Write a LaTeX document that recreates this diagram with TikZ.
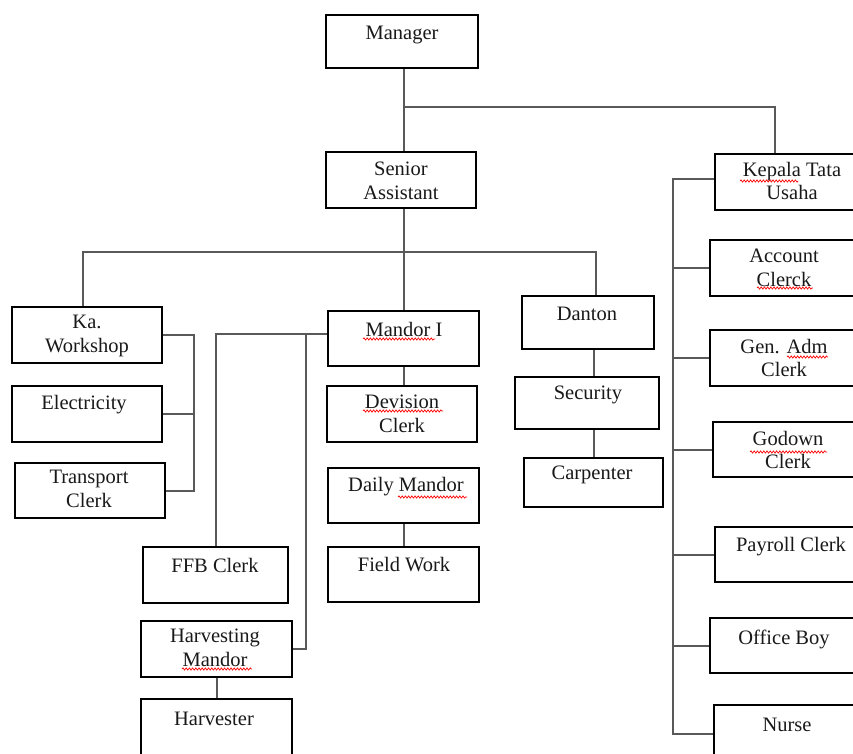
\documentclass[tikz,border=0pt]{standalone}
\usepackage{fontspec}
\setmainfont{Liberation Serif}
\usetikzlibrary{decorations.pathmorphing}
\begin{document}
\begin{tikzpicture}[x=1pt,y=-1pt,
  box/.style={draw=black,line width=1.5pt,fill=white,inner sep=0pt},
  txt/.style={font=\fontsize{20.5}{23.5}\selectfont,align=center,inner sep=0pt,text=black!90},
  con/.style={draw=black!65,line width=2pt},
  wavy/.style={draw=red,line width=0.7pt,decorate,decoration={snake,amplitude=1.1pt,segment length=3.2pt}}]
\clip (0,0) rectangle (853,754);
\fill[white] (0,0) rectangle (853,754);
% coordinates
\coordinate (jM) at (404,107);
\coordinate (jK) at (775,107);
\coordinate (jS) at (404,252);
\coordinate (jL) at (83,252);
\coordinate (jD) at (596,252);
\coordinate (xW) at (194,0);
\coordinate (jH) at (306,333);
\coordinate (xD) at (594,0);
\coordinate (xR) at (673,0);
% boxes
\node[box,minimum width=152,minimum height=53] (mgr) at (402,41.5) {};
\node[box,minimum width=150,minimum height=56] (sa) at (401,180) {};
\node[box,minimum width=145,minimum height=56] (ktu) at (787.5,182) {};
\node[box,minimum width=150,minimum height=56] (acc) at (785,268) {};
\node[box,minimum width=150,minimum height=56] (gen) at (785,358) {};
\node[box,minimum width=147,minimum height=55] (god) at (786.5,449.5) {};
\node[box,minimum width=145,minimum height=55] (pay) at (787.5,554.5) {};
\node[box,minimum width=150,minimum height=55] (ob) at (785,645.5) {};
\node[box,minimum width=146,minimum height=58] (nur) at (787,734) {};
\node[box,minimum width=150,minimum height=56] (ka) at (87,335) {};
\node[box,minimum width=150,minimum height=56] (el) at (87,414) {};
\node[box,minimum width=150,minimum height=55] (tc) at (90,490.5) {};
\node[box,minimum width=151,minimum height=55] (m1) at (403.5,338.5) {};
\node[box,minimum width=150,minimum height=56] (dc) at (402,414) {};
\node[box,minimum width=151,minimum height=55] (dm) at (403.5,495.5) {};
\node[box,minimum width=151,minimum height=55] (fw) at (403.5,574.5) {};
\node[box,minimum width=145,minimum height=56] (ffb) at (215.5,575) {};
\node[box,minimum width=151,minimum height=56] (hm) at (216.5,649) {};
\node[box,minimum width=151,minimum height=71] (hv) at (216.5,734.5) {};
\node[box,minimum width=132,minimum height=53] (dan) at (588,322.5) {};
\node[box,minimum width=144,minimum height=52] (sec) at (587,403) {};
\node[box,minimum width=139,minimum height=49] (car) at (593.5,482.5) {};
% connectors
\draw[con] (jM |- mgr.south) -- (jM |- sa.north);
\draw[con] (jM) -- (jK) -- (jK |- ktu.north);
\draw[con] (jS |- sa.south) -- (jS |- m1.north);
\draw[con] (jL |- ka.north) -- (jL) -- (jD) -- (jD |- dan.north);
\draw[con] (ka.east) -- (ka.east -| xW) |- (tc.east);
\draw[con] (el.east) -- (el.east -| xW);
\draw[con] ([yshift=5pt]m1.west) -| (ffb.north);
\draw[con] (jH) |- (hm.east);
\draw[con] (m1.south) -- (m1.south |- dc.north);
\draw[con] (dm.south) -- (dm.south |- fw.north);
\draw[con] (hm.south) -- (hm.south |- hv.north);
\draw[con] (dan.south -| xD) -- (sec.north -| xD);
\draw[con] (sec.south -| xD) -- (car.north -| xD);
\draw[con] ([yshift=3pt]ktu.west) -| (nur.west -| xR) -- (nur.west);
\draw[con] (acc.west) -- (acc.west -| xR);
\draw[con] (gen.west) -- (gen.west -| xR);
\draw[con] (god.west) -- (god.west -| xR);
\draw[con] (pay.west) -- (pay.west -| xR);
\draw[con] (ob.west) -- (ob.west -| xR);
% texts
\node[txt] (t-mgr) at (402,35) {Manager};
\node[txt] (t-sa) at (401,181) {Senior\\Assistant};
\node[txt] (t-ktu) at (792,181) {Kepala Tata\\Usaha};
\node[txt] (t-acc) at (784,268) {Account\\Clerck};
\node[txt] (t-gen) at (784,358) {Gen. Adm\\Clerk};
\node[txt] (t-god) at (788,450) {Godown\\Clerk};
\node[txt] (t-pay) at (791,547) {Payroll Clerk};
\node[txt] (t-ob) at (784,639) {Office Boy};
\node[txt] (t-nur) at (787,725) {Nurse};
\node[txt] (t-ka) at (87,336) {Ka.\\Workshop};
\node[txt] (t-el) at (84,405) {Electricity};
\node[txt] (t-tc) at (89,489) {Transport\\Clerk};
\node[txt] (t-m1) at (404,329) {Mandor I};
\node[txt] (t-dc) at (402,414) {Devision\\Clerk};
\node[txt] (t-dm) at (406,487) {Daily Mandor};
\node[txt] (t-fw) at (404,565) {Field Work};
\node[txt] (t-ffb) at (215,565) {FFB Clerk};
\node[txt] (t-hm) at (215,648) {Harvesting\\Mandor};
\node[txt] (t-hv) at (214,719) {Harvester};
\node[txt] (t-dan) at (587,314) {Danton};
\node[txt] (t-sec) at (588,395) {Security};
\node[txt] (t-car) at (592,475) {Carpenter};
% spell-check underlines
\draw[wavy] (740,181) -- (798,181);
\draw[wavy] (757,288) -- (813,288);
\draw[wavy] (787,357) -- (828,357);
\draw[wavy] (750,452) -- (827,452);
\draw[wavy] (363,339) -- (435,339);
\draw[wavy] (363,411) -- (443,411);
\draw[wavy] (398,497) -- (467,497);
\draw[wavy] (182,669) -- (252,669);
\end{tikzpicture}
\end{document}
